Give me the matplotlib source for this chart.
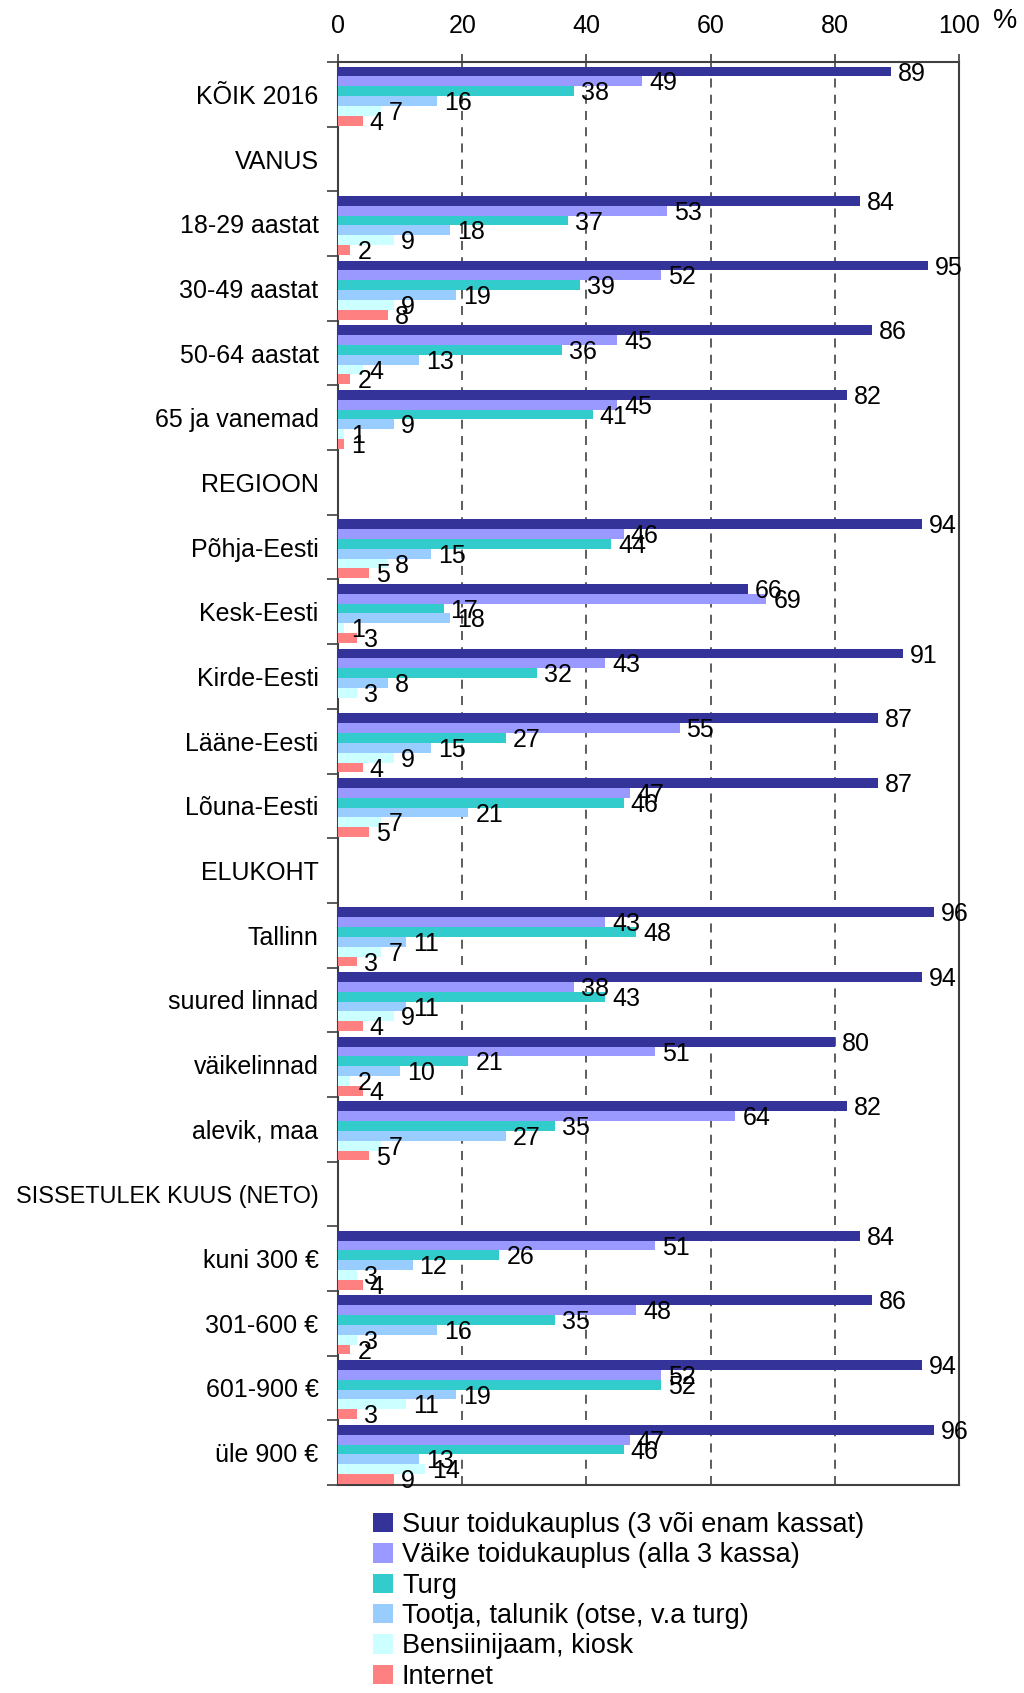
import numpy as np
import matplotlib
matplotlib.use("Agg")
import matplotlib.pyplot as plt
from matplotlib.patches import Patch
from matplotlib.ticker import FixedLocator

plt.rcParams['font.family'] = ['Liberation Sans', 'DejaVu Sans']

categories = ["KÕIK 2016", "VANUS", "18-29 aastat", "30-49 aastat", "50-64 aastat",
              "65 ja vanemad", "REGIOON", "Põhja-Eesti", "Kesk-Eesti", "Kirde-Eesti",
              "Lääne-Eesti", "Lõuna-Eesti", "ELUKOHT", "Tallinn", "suured linnad",
              "väikelinnad", "alevik, maa", "SISSETULEK KUUS (NETO)", "kuni 300 €",
              "301-600 €", "601-900 €", "üle 900 €"]

series_names = ["Suur toidukauplus (3 või enam kassat)",
                "Väike toidukauplus (alla 3 kassa)",
                "Turg",
                "Tootja, talunik (otse, v.a turg)",
                "Bensiinijaam, kiosk",
                "Internet"]

N = None
suur    = [89, N, 84, 95, 86, 82, N, 94, 66, 91, 87, 87, N, 96, 94, 80, 82, N, 84, 86, 94, 96]
vaike   = [49, N, 53, 52, 45, 45, N, 46, 69, 43, 55, 47, N, 43, 38, 51, 64, N, 51, 48, 52, 47]
turg    = [38, N, 37, 39, 36, 41, N, 44, 17, 32, 27, 46, N, 48, 43, 21, 35, N, 26, 35, 52, 46]
tootja  = [16, N, 18, 19, 13,  9, N, 15, 18,  8, 15, 21, N, 11, 11, 10, 27, N, 12, 16, 19, 13]
bensiin = [ 7, N,  9,  9,  4,  1, N,  8,  1,  3,  9,  7, N,  7,  9,  2,  7, N,  3,  3, 11, 14]
internet= [ 4, N,  2,  8,  2,  1, N,  5,  3,  N,  4,  5, N,  3,  4,  4,  5, N,  4,  2,  3,  9]

series = [suur, vaike, turg, tootja, bensiin, internet]
colors = ["#333399", "#9999FF", "#33CCCC", "#99CCFF", "#CCFFFF", "#FF8080"]
xticks = [0, 20, 40, 60, 80, 100]

FS = 18
LFS = 19.5
fig = plt.figure(figsize=(10.24, 16.93), dpi=100)
ax = fig.add_axes([338/1024, 1 - 1485/1693, (959-338)/1024, (1485-62)/1693])

n = len(categories)
bh = 0.152
top_gap = 0.07
idx = np.arange(n)
for j, (vals, col) in enumerate(zip(series, colors)):
    for i, v in enumerate(vals):
        if v is None:
            continue
        y0 = i + top_gap + j * bh
        ax.barh(y0, v, height=bh, align='edge', color=col, edgecolor='none', zorder=3)
        ax.annotate(str(v), xy=(v, y0 + bh / 2), xytext=(5, -1.5), textcoords='offset points',
                    ha='left', va='center', fontsize=FS, color='black', zorder=5,
                    annotation_clip=False)

ax.set_xlim(0, 100)
ax.set_ylim(n, 0)

ax.xaxis.tick_top()
ax.set_xticks(xticks)
ax.set_xticklabels([str(t) for t in xticks], fontsize=FS)
ax.tick_params(axis='x', which='major', direction='out', length=6, width=1.2,
               color='#404040', pad=11)
for t in xticks[1:-1]:
    ax.axvline(t, color='#505050', lw=1.3, ls=(0, (5, 4)), zorder=1)

ax.yaxis.set_major_locator(FixedLocator(idx + 0.5))
ax.set_yticklabels(categories, fontsize=FS)
for lab in ax.get_yticklabels():
    if len(lab.get_text()) > 15:
        lab.set_fontsize(16.8)
ax.yaxis.set_minor_locator(FixedLocator(np.arange(n + 1)))
ax.tick_params(axis='y', which='major', length=0, pad=14)
ax.tick_params(axis='y', which='minor', direction='out', length=8, width=1.2, color='#404040')

for s in ax.spines.values():
    s.set_color('#404040')
    s.set_linewidth(1.5)

fig.text(1005/1024, 1 - 21/1693, "%", fontsize=LFS, ha='center', va='center')

handles = [Patch(facecolor=c, edgecolor='none') for c in colors]
fig.legend(handles, series_names, loc='upper left', bbox_to_anchor=(373/1024, 1 - 1512/1693),
           frameon=False, fontsize=LFS, handlelength=0.72, handleheight=0.72,
           handletextpad=0.35, labelspacing=0.16, borderpad=0, borderaxespad=0)

fig.savefig("out.png", dpi=100)
